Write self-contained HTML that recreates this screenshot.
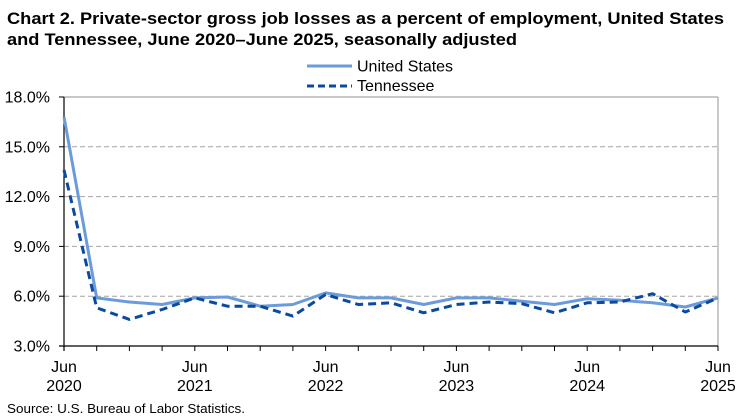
<!DOCTYPE html>
<html>
<head>
<meta charset="utf-8">
<style>
html,body{margin:0;padding:0;background:#fff;}
svg{display:block;font-family:"Liberation Sans",Arial,sans-serif;}
</style>
</head>
<body>
<svg width="751" height="420" viewBox="0 0 751 420" xmlns="http://www.w3.org/2000/svg">
<rect width="751" height="420" fill="#fff"/>
<!-- Title -->
<text x="7" y="24" font-size="17" font-weight="bold" fill="#000" textLength="717" lengthAdjust="spacingAndGlyphs">Chart 2. Private-sector gross job losses as a percent of employment, United States</text>
<text x="7" y="45" font-size="17" font-weight="bold" fill="#000" textLength="510" lengthAdjust="spacingAndGlyphs">and Tennessee, June 2020–June 2025, seasonally adjusted</text>

<!-- Legend -->
<line x1="307" y1="66" x2="352" y2="66" stroke="#6c9bdb" stroke-width="3"/>
<text x="357" y="71.5" font-size="16" fill="#000">United States</text>
<line x1="307" y1="86" x2="352" y2="86" stroke="#0b4a9e" stroke-width="3" stroke-dasharray="7,4"/>
<text x="357" y="91" font-size="16" fill="#000">Tennessee</text>

<!-- Gridlines -->
<line x1="64" y1="97" x2="718" y2="97" stroke="#a6a6a6" stroke-width="1.2"/>
<g stroke="#a6a6a6" stroke-width="1" stroke-dasharray="5,3">
<line x1="64" y1="146.8" x2="718" y2="146.8"/>
<line x1="64" y1="196.6" x2="718" y2="196.6"/>
<line x1="64" y1="246.4" x2="718" y2="246.4"/>
<line x1="64" y1="296.2" x2="718" y2="296.2"/>
</g>
<line x1="718" y1="97" x2="718" y2="346" stroke="#a6a6a6" stroke-width="1.2"/>

<!-- Axes -->
<line x1="64" y1="97" x2="64" y2="351" stroke="#000" stroke-width="1.2"/>
<line x1="59" y1="346" x2="718" y2="346" stroke="#000" stroke-width="1.2"/>
<g stroke="#000" stroke-width="1">
<line x1="59" y1="97" x2="64" y2="97"/>
<line x1="59" y1="146.8" x2="64" y2="146.8"/>
<line x1="59" y1="196.6" x2="64" y2="196.6"/>
<line x1="59" y1="246.4" x2="64" y2="246.4"/>
<line x1="59" y1="296.2" x2="64" y2="296.2"/>
<line x1="96.7" y1="346" x2="96.7" y2="351"/>
<line x1="129.4" y1="346" x2="129.4" y2="351"/>
<line x1="162.1" y1="346" x2="162.1" y2="351"/>
<line x1="194.8" y1="346" x2="194.8" y2="351"/>
<line x1="227.5" y1="346" x2="227.5" y2="351"/>
<line x1="260.2" y1="346" x2="260.2" y2="351"/>
<line x1="292.9" y1="346" x2="292.9" y2="351"/>
<line x1="325.6" y1="346" x2="325.6" y2="351"/>
<line x1="358.3" y1="346" x2="358.3" y2="351"/>
<line x1="391" y1="346" x2="391" y2="351"/>
<line x1="423.7" y1="346" x2="423.7" y2="351"/>
<line x1="456.4" y1="346" x2="456.4" y2="351"/>
<line x1="489.1" y1="346" x2="489.1" y2="351"/>
<line x1="521.8" y1="346" x2="521.8" y2="351"/>
<line x1="554.5" y1="346" x2="554.5" y2="351"/>
<line x1="587.2" y1="346" x2="587.2" y2="351"/>
<line x1="619.9" y1="346" x2="619.9" y2="351"/>
<line x1="652.6" y1="346" x2="652.6" y2="351"/>
<line x1="685.3" y1="346" x2="685.3" y2="351"/>
<line x1="718" y1="346" x2="718" y2="351"/>
</g>

<!-- Y labels -->
<g font-size="16" fill="#000" text-anchor="end">
<text x="50" y="102.5">18.0%</text>
<text x="50" y="152.3">15.0%</text>
<text x="50" y="202.1">12.0%</text>
<text x="50" y="251.9">9.0%</text>
<text x="50" y="301.7">6.0%</text>
<text x="50" y="351.5">3.0%</text>
</g>

<!-- X labels -->
<g font-size="16" fill="#000" text-anchor="middle">
<text x="64" y="372">Jun</text><text x="64" y="391">2020</text>
<text x="194.8" y="372">Jun</text><text x="194.8" y="391">2021</text>
<text x="325.6" y="372">Jun</text><text x="325.6" y="391">2022</text>
<text x="456.4" y="372">Jun</text><text x="456.4" y="391">2023</text>
<text x="587.2" y="372">Jun</text><text x="587.2" y="391">2024</text>
<text x="718" y="372">Jun</text><text x="718" y="391">2025</text>
</g>

<!-- US series -->
<polyline fill="none" stroke="#6c9bdb" stroke-width="3" stroke-linejoin="round"
points="64,116.9 96.7,297.9 129.4,302 162.1,304.5 194.8,297.9 227.5,297 260.2,306.2 292.9,304.5 325.6,292.9 358.3,297.9 391,297.9 423.7,304.5 456.4,297.9 489.1,297.9 521.8,301.2 554.5,304.5 587.2,298.7 619.9,300.3 652.6,302.8 685.3,307 718,297.9"/>

<!-- TN series -->
<polyline fill="none" stroke="#0b4a9e" stroke-width="3" stroke-dasharray="8,5" stroke-linejoin="round"
points="64,170 96.7,307.8 129.4,319.4 162.1,309.5 194.8,297.9 227.5,306.2 260.2,306.2 292.9,316.1 325.6,294.5 358.3,304.5 391,302.8 423.7,312.8 456.4,304.5 489.1,302 521.8,303.7 554.5,312.8 587.2,302.8 619.9,302 652.6,293.7 685.3,312 718,297.9"/>

<!-- Source -->
<text x="7" y="413" font-size="13" fill="#000" textLength="238" lengthAdjust="spacingAndGlyphs">Source: U.S. Bureau of Labor Statistics.</text>
</svg>
</body>
</html>
